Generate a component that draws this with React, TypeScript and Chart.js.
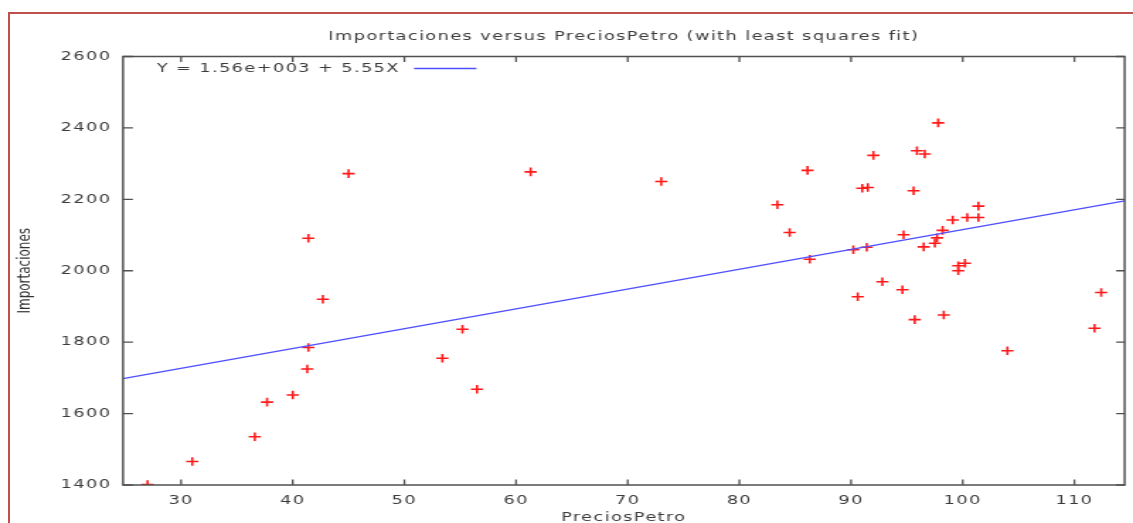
import { useEffect, useRef } from "react";
import { Chart, registerables } from "chart.js";

Chart.register(...registerables);

// Observations: oil price (x) and imports (y)
const precios = [
  27.0, 31.0, 36.6, 37.7, 40.0, 41.3, 41.4, 41.4, 42.7, 45.0,
  53.4, 55.2, 56.5, 61.3, 73.0, 83.4, 84.5, 86.1, 86.3, 90.2,
  90.6, 91.0, 91.4, 91.5, 92.0, 92.8, 94.6, 94.7, 95.6, 95.7,
  95.9, 96.5, 96.6, 97.5, 97.7, 97.8, 98.2, 98.3, 99.1, 99.6,
  99.6, 100.2, 100.4, 101.4, 101.4, 104.0, 111.8, 112.4,
];
const importaciones = [
  1401, 1466, 1535, 1632, 1652, 1725, 1785, 2091, 1920, 2272,
  1755, 1836, 1668, 2277, 2250, 2185, 2107, 2281, 2032, 2059,
  1927, 2231, 2066, 2233, 2323, 1969, 1947, 2101, 2224, 1863,
  2336, 2067, 2327, 2077, 2092, 2414, 2113, 1876, 2142, 2014,
  2000, 2021, 2149, 2149, 2181, 1776, 1839, 1939,
];

// Least squares fit Y = a + bX
const FIT_INTERCEPT = 1560;
const FIT_SLOPE = 5.55;
const FIT_LABEL = "Y = 1.56e+003 + 5.55X";

const X_MIN = 24.8;
const X_MAX = 114.5;
const X_STEP = 10;
const Y_MIN = 1400;
const Y_MAX = 2600;
const Y_STEP = 200;

const TITLE = "Importaciones versus PreciosPetro (with least squares fit)";
const X_TITLE = "PreciosPetro";
const Y_TITLE = "Importaciones";

const FONT = "'DejaVu Sans', Verdana, sans-serif";
const TEXT_COLOR = "#3c3c3c";
const AXIS_COLOR = "#505050";

// canvas is drawn at 800px wide and shown at 1133px
const RENDER_W = 800;
const RENDER_H = 523;
const SHOW_W = 1133;
const SX = SHOW_W / RENDER_W;

const PLOT_LEFT = 123 / SX;
const PLOT_RIGHT = 1127 / SX;
const PLOT_TOP = 56.5;
const PLOT_BOTTOM = 485;

const spacing = {
  id: "spacing",
  beforeUpdate(chart: any) {
    chart.ctx.letterSpacing = "1px";
  },
  beforeDraw(chart: any) {
    chart.ctx.letterSpacing = "1px";
  },
};

const plotFrame = {
  id: "plotFrame",
  afterDraw(chart: any) {
    const { ctx, chartArea, scales } = chart;
    const { left, right, top, bottom } = chartArea;
    const x = scales.x;
    const y = scales.y;
    ctx.save();
    ctx.strokeStyle = AXIS_COLOR;
    ctx.lineWidth = 1.5;
    ctx.strokeRect(left, top, right - left, bottom - top);
    ctx.lineWidth = 1.3;
    ctx.beginPath();
    for (const t of x.ticks) {
      const px = x.getPixelForValue(t.value);
      ctx.moveTo(px, bottom);
      ctx.lineTo(px, bottom - 5.5);
      ctx.moveTo(px, top);
      ctx.lineTo(px, top + 5.5);
    }
    for (const t of y.ticks) {
      const py = y.getPixelForValue(t.value);
      ctx.moveTo(left, py);
      ctx.lineTo(left + 7, py);
      ctx.moveTo(right, py);
      ctx.lineTo(right - 6, py);
    }
    ctx.stroke();

    // y axis title
    ctx.letterSpacing = "0px";
    ctx.fillStyle = "#333333";
    ctx.font = `12px ${FONT}`;
    ctx.textAlign = "center";
    ctx.textBaseline = "middle";
    ctx.translate(25 / SX, (top + bottom) / 2);
    ctx.rotate(-Math.PI / 2);
    ctx.fillText(Y_TITLE, 0, 0);
    ctx.restore();

    // key for the fitted line
    const fit = chart.data.datasets[0];
    ctx.save();
    ctx.letterSpacing = "1px";
    ctx.font = `12.5px ${FONT}`;
    ctx.fillStyle = TEXT_COLOR;
    ctx.textAlign = "left";
    ctx.textBaseline = "middle";
    const kx = left + 23.8;
    const ky = top + 12;
    ctx.fillText(fit.label, kx, ky);
    const w = ctx.measureText(fit.label).width;
    ctx.strokeStyle = fit.borderColor;
    ctx.lineWidth = fit.borderWidth;
    ctx.beginPath();
    ctx.moveTo(kx + w + 10, ky);
    ctx.lineTo(kx + w + 54, ky);
    ctx.stroke();
    ctx.restore();
  },
};

export default function App() {
  const ref = useRef<HTMLCanvasElement>(null);

  useEffect(() => {
    const canvas = ref.current;
    if (!canvas) return;
    const points = precios.map((p, i) => ({ x: p, y: importaciones[i] }));
    const fitLine = [
      { x: X_MIN, y: FIT_INTERCEPT + FIT_SLOPE * X_MIN },
      { x: X_MAX, y: FIT_INTERCEPT + FIT_SLOPE * X_MAX },
    ];
    const tickFont = { family: FONT, size: 12.5 };
    const plain = (v: number | string) => String(v);

    const chart = new Chart(canvas, {
      type: "scatter",
      data: {
        datasets: [
          {
            label: FIT_LABEL,
            data: fitLine,
            showLine: true,
            borderColor: "#4f4fff",
            borderWidth: 1.3,
            pointRadius: 0,
            order: 0,
          } as any,
          {
            label: "Importaciones",
            data: points,
            pointStyle: "cross",
            pointRadius: 4.3,
            pointBorderWidth: 1.6,
            borderColor: "#ff1a1a",
            backgroundColor: "#ff1a1a",
            order: 1,
          } as any,
        ],
      },
      options: {
        responsive: false,
        animation: false,
        devicePixelRatio: 1,
        layout: {
          padding: { left: 0, right: RENDER_W - PLOT_RIGHT, top: 0, bottom: 0 },
        },
        plugins: {
          legend: { display: false },
          tooltip: { enabled: false },
          title: {
            display: true,
            text: TITLE,
            fullSize: false,
            color: TEXT_COLOR,
            font: { family: FONT, size: 12.5, weight: "normal", lineHeight: 1.2 },
            padding: { top: 28.8, bottom: PLOT_TOP - 28.8 - 15 },
          },
        },
        scales: {
          x: {
            type: "linear",
            min: X_MIN,
            max: X_MAX,
            grid: { display: false, drawTicks: false },
            border: { display: false },
            ticks: {
              stepSize: X_STEP,
              includeBounds: false,
              color: TEXT_COLOR,
              font: tickFont,
              padding: 8.5,
              maxRotation: 0,
              callback: plain,
            },
            title: {
              display: true,
              text: X_TITLE,
              color: TEXT_COLOR,
              font: { family: FONT, size: 12.5, lineHeight: 1.2 },
              padding: { top: 0, bottom: -2 },
            },
            afterFit(scale: any) {
              scale.height = RENDER_H - PLOT_BOTTOM;
            },
          },
          y: {
            type: "linear",
            min: Y_MIN,
            max: Y_MAX,
            grid: { display: false, drawTicks: false },
            border: { display: false },
            ticks: {
              stepSize: Y_STEP,
              color: TEXT_COLOR,
              font: tickFont,
              padding: 8.2,
              callback: plain,
            },
            afterFit(scale: any) {
              scale.width = PLOT_LEFT;
            },
          },
        },
      },
      plugins: [spacing, plotFrame],
    });

    return () => chart.destroy();
  }, []);

  return (
    <div
      style={{
        position: "fixed",
        left: 0,
        top: 0,
        width: SHOW_W,
        height: RENDER_H,
        background: "#ffffff",
        overflow: "hidden",
      }}
    >
      <div
        style={{
          position: "absolute",
          left: 8,
          top: 12,
          right: -10,
          bottom: -10,
          borderLeft: "2px solid #c0504d",
          borderTop: "2px solid #c0504d",
        }}
      />
      <canvas
        ref={ref}
        width={RENDER_W}
        height={RENDER_H}
        style={{ position: "absolute", left: 0, top: 0, width: `${SHOW_W}px`, height: `${RENDER_H}px` }}
      />
    </div>
  );
}
